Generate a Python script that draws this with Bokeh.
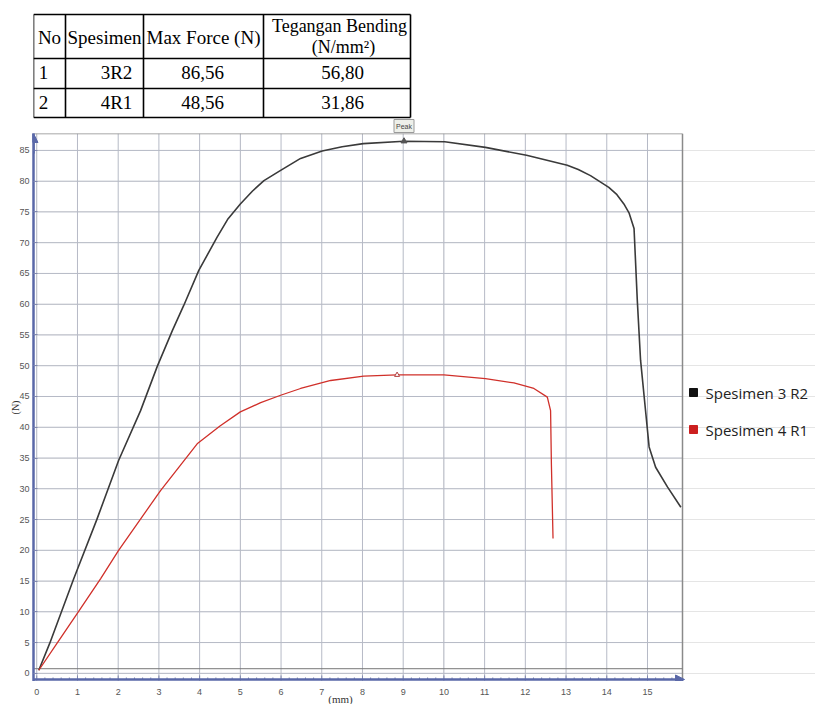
import math
from bokeh.plotting import figure
from bokeh.layouts import column
from bokeh.models import Range1d, Arrow, NormalHead, FixedTicker
from bokeh.embed import file_html
from bokeh.resources import INLINE
from bokeh.core.properties import value

# ---------------- data ----------------
table_header = ["No", "Spesimen", "Max Force (N)"]
table_header_last = ["Tegangan Bending", "(N/mm\u00b2)"]
table_no = ["1", "2"]
table_spesimen = ["3R2", "4R1"]
table_max_force = ["86,56", "48,56"]
table_tegangan = ["56,80", "31,86"]

black_x = [0.05, 0.32, 0.91, 1.47, 2.01, 2.55, 2.96, 3.33, 3.61, 3.98, 4.43,
           4.7, 5.0, 5.3, 5.58, 6.0, 6.48, 7.01, 7.5, 8.02, 9.02, 10.02, 11.02,
           12.03, 13.03, 13.3, 13.6, 14.05, 14.25, 14.42, 14.55, 14.67, 14.75,
           14.83, 14.96, 15.04, 15.2, 15.49, 15.82]
black_y = [0.5, 4.9, 15.4, 24.9, 34.6, 42.7, 49.9, 55.7, 59.8, 65.5, 70.9,
           73.9, 76.3, 78.4, 80.1, 81.8, 83.7, 84.9, 85.6, 86.1, 86.5, 86.4, 85.5,
           84.2, 82.6, 81.9, 80.9, 79.0, 77.8, 76.3, 74.8, 72.3, 60.6,
           50.9, 42.2, 36.8, 33.5, 30.3, 27.0]

red_x = [0.05, 0.5, 1.0, 1.57, 2.01, 3.04, 3.94, 4.5, 5.0, 5.5, 5.99, 6.48, 7.22,
         8.03, 8.85, 10.0, 11.02, 11.72, 12.21, 12.54, 12.62, 12.64, 12.68]
red_y = [0.5, 4.9, 9.8, 15.4, 20.0, 29.7, 37.3, 40.2, 42.5, 44.0, 45.2, 46.3, 47.6,
         48.3, 48.5, 48.5, 47.9, 47.2, 46.3, 44.9, 42.7, 34.0, 21.9]

peak_black_x, peak_black_y = [9.02], [86.5]
peak_red_x, peak_red_y = [8.85], [48.5]
peak_text = ["Peak"]

x_ticks = list(range(0, 16))
x_tick_labels = [str(v) for v in x_ticks]
x_minor_ticks = [i / 5 for i in range(0, 80) if i % 5]
y_ticks = list(range(0, 90, 5))
x_title, y_title = "(mm)", "(N)"
series_labels = ["Spesimen 3 R2", "Spesimen 4 R1"]
series_colors = ["#111111", "#cc1f1f"]

BLACK = "#3a3a3a"
RED = "#d0302a"
BLUE = "#5a68a8"
GRID = "#b6bac6"
TICK = "#8088b0"
TICK_TXT = "#555555"

# visible plot box (data units); the frame extends right (legend) and 2px below (axis line)
X_MIN, X_MAX = -0.08, 15.86
Y_MIN, Y_MAX = -1.0, 87.75
Y_LOW = -1.33
FRAME_LEFT, FRAME_RIGHT_BOX, PAGE_W = 33, 682, 815
X_END = X_MIN + (X_MAX - X_MIN) * (PAGE_W - FRAME_LEFT) / (FRAME_RIGHT_BOX - FRAME_LEFT)
X_RANGE = Range1d(X_MIN, X_END)


def bare(height, y_range, x_range):
    f = figure(width=PAGE_W, height=height, x_range=x_range, y_range=y_range,
               toolbar_location=None, output_backend="svg",
               x_axis_location=None, y_axis_location=None, min_border=0,
               outline_line_color=None)
    f.grid.visible = False
    return f


# ---------------- table (pixel-like coordinates) ----------------
t = bare(133, Range1d(133, 0), Range1d(FRAME_LEFT, PAGE_W))
t.extra_x_ranges = {"mm": X_RANGE}

col_x = [33, 65, 143, 263, 410]
row_y = [14, 58, 88, 117]
t.segment(x0=col_x, y0=[row_y[0]] * len(col_x), x1=col_x, y1=[row_y[-1]] * len(col_x),
          line_color="black", line_width=1.6)
t.segment(x0=[col_x[0]] * len(row_y), y0=row_y, x1=[col_x[-1]] * len(row_y), y1=row_y,
          line_color="black", line_width=1.6)

serif = value("Liberation Serif")
t.text(x=[49, 104, 203], y=[37, 37, 37], text=table_header, text_font=serif,
       text_font_size="19px", text_align="center", text_baseline="middle", text_color="black")
t.text(x=[339, 343], y=[25, 46], text=table_header_last, text_font=serif,
       text_font_size="18px", text_align="center", text_baseline="middle", text_color="black")
rows_y = [72, 102]
t.text(x=[43, 43], y=rows_y, text=table_no, text_font=serif, text_font_size="19px",
       text_align="center", text_baseline="middle", text_color="black")
t.text(x=[116, 116], y=rows_y, text=table_spesimen, text_font=serif, text_font_size="19px",
       text_align="center", text_baseline="middle", text_color="black")
t.text(x=[202, 202], y=rows_y, text=table_max_force, text_font=serif, text_font_size="19px",
       text_align="center", text_baseline="middle", text_color="black")
t.text(x=[342, 342], y=rows_y, text=table_tegangan, text_font=serif, text_font_size="19px",
       text_align="center", text_baseline="middle", text_color="black")

# "Peak" tag, positioned on the chart's mm scale
t.rect(x=peak_black_x, y=[125.5], width=20, height=13, width_units="screen",
       height_units="screen", fill_color="#eef0ea", line_color="#9a9a9a", line_width=1,
       x_range_name="mm")
t.text(x=peak_black_x, y=[125.5], text=peak_text, text_font=value("Liberation Sans"),
       text_font_size="7px", text_align="center", text_baseline="middle",
       text_color="#444444", x_range_name="mm")

# ---------------- chart ----------------
p = figure(width=PAGE_W, height=548, x_range=X_RANGE, y_range=Range1d(Y_LOW, Y_MAX),
           toolbar_location=None, output_backend="svg", x_axis_location=None,
           min_border_left=FRAME_LEFT, min_border_right=0, min_border_top=0, min_border_bottom=0,
           outline_line_color=None)
p.extra_x_ranges = {"px": Range1d(FRAME_LEFT, PAGE_W)}
p.extra_y_ranges = {"px": Range1d(681, 133)}

p.yaxis.ticker = FixedTicker(ticks=y_ticks)
p.yaxis.axis_line_color = BLUE
p.yaxis.axis_line_width = 2.5
p.yaxis.major_tick_in = 4
p.yaxis.major_tick_out = 0
p.yaxis.major_tick_line_color = TICK
p.yaxis.minor_tick_line_color = None
p.yaxis.major_label_text_font = "Liberation Sans"
p.yaxis.major_label_text_font_size = "9px"
p.yaxis.major_label_text_color = TICK_TXT
p.yaxis.major_label_standoff = 4
p.yaxis.axis_label = y_title
p.yaxis.axis_label_text_font = "Liberation Serif"
p.yaxis.axis_label_text_font_style = "normal"
p.yaxis.axis_label_text_color = "#333333"
p.yaxis.axis_label_text_font_size = "10px"
p.yaxis.axis_label_standoff = -5

# grid: vertical lines at the x ticks, horizontal lines across the box only
p.segment(x0=x_ticks, y0=[Y_LOW] * len(x_ticks), x1=x_ticks, y1=[Y_MAX] * len(x_ticks),
          line_color=GRID, line_width=1)
p.segment(x0=[X_MIN] * len(y_ticks), y0=y_ticks, x1=[X_MAX] * len(y_ticks), y1=y_ticks,
          line_color=GRID, line_width=1)
# box top and right edges
p.segment(x0=[X_MIN, X_MAX], y0=[Y_MAX, Y_MIN], x1=[X_MAX, X_MAX], y1=[Y_MAX, Y_MAX],
          line_color="#8a8a8a", line_width=1.5)
# baseline just above zero
p.segment(x0=[X_MIN], y0=[0.75], x1=[X_MAX], y1=[0.75], line_color="#777777", line_width=1)

p.line(black_x, black_y, line_color=BLACK, line_width=1.6)
p.line(red_x, red_y, line_color=RED, line_width=1.3)

p.scatter(peak_black_x, peak_black_y, marker="triangle", size=6, color="#555555")
p.scatter(peak_red_x, peak_red_y, marker="triangle", size=5, fill_color="white",
          line_color="#b04040", line_width=1)

# x axis: line with ticks pointing into the box, and arrowheads on both axes
p.ray(x=x_ticks, y=[Y_MIN] * len(x_ticks), length=4, length_units="screen",
      angle=math.pi / 2, line_color=TICK, line_width=1)
p.ray(x=x_minor_ticks, y=[Y_MIN] * len(x_minor_ticks), length=2, length_units="screen",
      angle=math.pi / 2, line_color=TICK, line_width=1)
p.add_layout(Arrow(end=NormalHead(size=9, fill_color=BLUE, line_color=BLUE),
                   x_start=X_MIN, y_start=Y_MIN, x_end=X_MAX + 0.05, y_end=Y_MIN,
                   line_color=BLUE, line_width=2.5))
p.add_layout(Arrow(end=NormalHead(size=9, fill_color=BLUE, line_color=BLUE),
                   x_start=X_MIN, y_start=84.5, x_end=X_MIN, y_end=Y_MAX,
                   line_color=BLUE, line_width=2.5))

# legend (placed in page pixels to the right of the box)
leg_x = [693, 693]
leg_y = [392, 429]
p.scatter(x=leg_x, y=leg_y, marker="square", size=8, color=series_colors,
          x_range_name="px", y_range_name="px")
p.text(x=[705, 705], y=leg_y, text=series_labels, text_font=value("Open Sans"),
       text_font_size="15px", text_align="left", text_baseline="middle",
       text_color="#222222", x_range_name="px", y_range_name="px")

# ---------------- strip under the chart: x tick labels and x title ----------------
b = bare(23, Range1d(704, 681), X_RANGE)
b.text(x=x_ticks, y=[691] * len(x_ticks), text=x_tick_labels,
       text_font=value("Liberation Sans"), text_font_size="9px", text_align="center",
       text_baseline="middle", text_color=TICK_TXT)
b.text(x=[7.46], y=[698], text=[x_title], text_font=serif, text_font_size="11px",
       text_align="center", text_baseline="middle", text_color="#333333")

layout = column(t, p, b, spacing=0)
open("out.html", "w").write(file_html(layout, INLINE))
